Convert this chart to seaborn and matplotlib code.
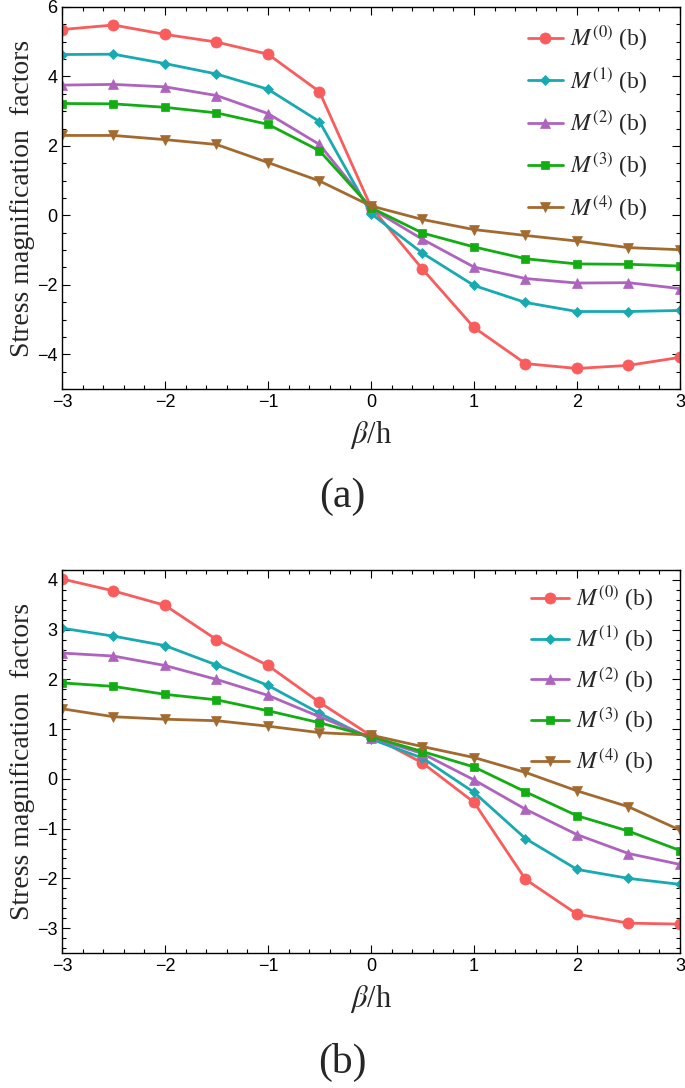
import numpy as np
import pandas as pd
import matplotlib
matplotlib.use("Agg")
import matplotlib.pyplot as plt
import seaborn as sns
from matplotlib.ticker import MultipleLocator

# ---------------- data ----------------
beta = [-3, -2.5, -2, -1.5, -1, -0.5, 0, 0.5, 1, 1.5, 2, 2.5, 3]

labels = [r"$M^{(0)}$ (b)", r"$M^{(1)}$ (b)", r"$M^{(2)}$ (b)",
          r"$M^{(3)}$ (b)", r"$M^{(4)}$ (b)"]

# panel (a)
a_m0 = [5.35, 5.48, 5.21, 4.99, 4.64, 3.56, 0.24, -1.55, -3.23, -4.27, -4.41, -4.32, -4.09]
a_m1 = [4.63, 4.64, 4.37, 4.07, 3.63, 2.70, 0.05, -1.09, -2.02, -2.51, -2.77, -2.77, -2.74]
a_m2 = [3.75, 3.77, 3.70, 3.45, 2.93, 2.04, 0.20, -0.69, -1.49, -1.82, -1.95, -1.94, -2.11]
a_m3 = [3.22, 3.21, 3.11, 2.95, 2.62, 1.86, 0.22, -0.51, -0.91, -1.25, -1.40, -1.41, -1.46]
a_m4 = [2.30, 2.30, 2.18, 2.04, 1.52, 0.99, 0.27, -0.12, -0.41, -0.58, -0.74, -0.93, -0.99]

# panel (b)
b_m0 = [4.02, 3.78, 3.49, 2.80, 2.28, 1.54, 0.87, 0.32, -0.47, -2.02, -2.72, -2.90, -2.92]
b_m1 = [3.03, 2.87, 2.68, 2.29, 1.88, 1.32, 0.80, 0.42, -0.27, -1.20, -1.82, -2.00, -2.12]
b_m2 = [2.53, 2.47, 2.28, 2.00, 1.68, 1.25, 0.83, 0.51, -0.02, -0.61, -1.12, -1.50, -1.72]
b_m3 = [1.93, 1.86, 1.70, 1.59, 1.37, 1.13, 0.85, 0.55, 0.24, -0.26, -0.74, -1.05, -1.44]
b_m4 = [1.41, 1.25, 1.20, 1.17, 1.06, 0.93, 0.88, 0.65, 0.43, 0.13, -0.24, -0.56, -1.03]

colors = ["#F85C5C", "#17AAB0", "#AE63BE", "#12AD12", "#A36A30"]
markers = ["o", "D", "^", "s", "v"]
msizes = [8, 5, 7, 6, 7]

# ---------------- style ----------------
sns.set_style("ticks")
plt.rcParams["font.family"] = ["Liberation Sans", "DejaVu Sans"]
plt.rcParams["mathtext.fontset"] = "stix"
plt.rcParams["xtick.direction"] = "in"
plt.rcParams["ytick.direction"] = "in"
plt.rcParams["axes.edgecolor"] = "black"
plt.rcParams["axes.linewidth"] = 1.0

fig = plt.figure(figsize=(6.85, 10.88), dpi=100)

serif = ["Liberation Serif", "DejaVu Serif"]


def panel(rect, series, ylim, ymajor, yminor, leg_anchor, lspace, hlen):
    ax = fig.add_axes(rect)
    for i, vals in enumerate(series):
        df = pd.DataFrame({"beta": beta, "val": vals})
        sns.lineplot(data=df, x="beta", y="val", ax=ax, color=colors[i],
                     marker=markers[i], markersize=msizes[i],
                     markeredgewidth=0.5, markeredgecolor=colors[i],
                     linewidth=2, label=labels[i])
    ax.set_xlim(-3, 3)
    ax.set_ylim(*ylim)
    ax.xaxis.set_major_locator(MultipleLocator(1))
    ax.xaxis.set_minor_locator(MultipleLocator(0.2))
    ax.yaxis.set_major_locator(MultipleLocator(ymajor))
    ax.yaxis.set_minor_locator(MultipleLocator(yminor))
    ax.tick_params(which="both", direction="in", top=True, right=True,
                   labelsize=13, width=0.8, colors="black")
    ax.tick_params(which="major", length=6)
    ax.tick_params(which="minor", length=3)
    ax.set_xlabel(r"$\beta$/h", fontsize=22, family=serif, labelpad=6)
    ax.set_ylabel("Stress magnification  factors", fontsize=20,
                  family=serif, labelpad=1)
    ax.grid(False)
    ax.legend(loc="upper right", bbox_to_anchor=leg_anchor,
              frameon=False, prop={"family": serif, "size": 17},
              labelspacing=lspace, handlelength=hlen, handletextpad=0.3)
    return ax


axa = panel([0.0905, 0.6425, 0.9022, 0.3511],
            [a_m0, a_m1, a_m2, a_m3, a_m4], (-5, 6), 2, 0.5,
            (0.982, 1.012), 0.53, 1.5)
axb = panel([0.0905, 0.1241, 0.9022, 0.3520],
            [b_m0, b_m1, b_m2, b_m3, b_m4], (-3.5, 4.2), 1, 0.2,
            (0.992, 1.02), 0.46, 1.6)

fig.text(0.5, 1 - 497 / 1088, "(a)", ha="center", va="center",
         fontsize=30, family=serif)
fig.text(0.5, 1 - 1062 / 1088, "(b)", ha="center", va="center",
         fontsize=30, family=serif)

fig.savefig("out.png", dpi=100)
